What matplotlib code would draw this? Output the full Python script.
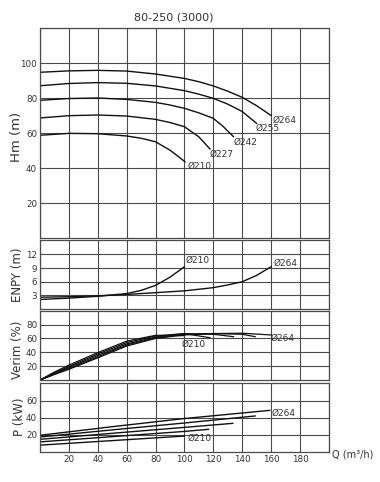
import matplotlib
matplotlib.use('Agg')
from matplotlib import pyplot as plt

plt.rcParams['font.family'] = 'DejaVu Sans'

diametros = ['264', '255', '242', '227', '210']

# Hm (m) x Q (m3/h)
q_hm = {
    '264': [0, 20, 40, 60, 80, 100, 110, 120, 130, 140, 150, 160],
    '255': [0, 20, 40, 60, 80, 100, 110, 120, 130, 140, 150],
    '242': [0, 20, 40, 60, 80, 90, 100, 110, 120, 127, 134],
    '227': [0, 20, 40, 60, 80, 90, 100, 110, 117.7],
    '210': [0, 20, 40, 60, 70, 80, 90, 100.4],
}
hm = {
    '264': [94.7, 95.5, 95.8, 95.4, 93.7, 91.2, 89.3, 86.9, 83.9, 80.4, 75.6, 70.0],
    '255': [87.0, 88.3, 88.8, 88.4, 86.9, 84.2, 82.2, 79.8, 76.5, 72.3, 65.5],
    '242': [78.7, 79.7, 80.0, 79.2, 77.5, 76.0, 74.1, 71.5, 68.4, 63.6, 57.9],
    '227': [68.6, 69.9, 70.3, 69.7, 67.8, 66.0, 63.6, 57.8, 50.9],
    '210': [58.7, 59.8, 59.6, 58.3, 57.0, 55.0, 50.2, 43.6],
}

# ENPY (m)
q_npsh = {
    '264': [0, 20, 40, 60, 80, 100, 120, 130, 140, 150, 160],
    '210': [0, 20, 40, 60, 70, 80, 90, 100],
}
npsh = {
    '264': [2.6, 2.7, 2.9, 3.2, 3.6, 4.0, 4.7, 5.3, 6.0, 7.4, 9.3],
    '210': [2.1, 2.4, 2.8, 3.4, 4.1, 5.2, 7.0, 9.3],
}

# Verim (%)
q_ef = {
    '264': [0, 10, 20, 40, 60, 80, 100, 120, 140, 160],
    '255': [0, 10, 20, 40, 60, 80, 100, 120, 140, 149],
    '242': [0, 10, 20, 40, 60, 80, 100, 120, 134],
    '227': [0, 10, 20, 40, 60, 80, 100, 117.7],
    '210': [0, 10, 20, 40, 60, 80, 100],
}
ef = {
    '264': [0, 8, 15.5, 32, 49, 60, 65, 67, 67.5, 65],
    '255': [0, 8.5, 16.5, 33.5, 50.5, 61, 66, 67, 66, 62.5],
    '242': [0, 9.5, 18, 35.5, 52, 62, 67, 66, 62.5],
    '227': [0, 10.5, 19.5, 37.5, 54, 63.5, 67, 61],
    '210': [0, 11.5, 21.5, 39.5, 56, 64.5, 64],
}

# P (kW)
q_p = {
    '264': [0, 50, 100, 159],
    '255': [0, 50, 100, 149],
    '242': [0, 50, 100, 133.5],
    '227': [0, 50, 100, 116.6],
    '210': [0, 50, 100],
}
pot = {
    '264': [19.5, 29.5, 39.0, 48.5],
    '255': [17.5, 25.8, 33.8, 42.0],
    '242': [14.8, 21.8, 28.7, 33.4],
    '227': [11.8, 17.9, 24.0, 26.4],
    '210': [8.0, 13.3, 18.6],
}

x_ticks = [20, 40, 60, 80, 100, 120, 140, 160, 180]
cor_grade = '#4a4a4a'
cor_txt = '#333333'

fig = plt.figure(figsize=(3.8, 4.82), dpi=100)
ax1 = fig.add_axes([0.1053, 0.5062, 0.76, 0.4357])
ax2 = fig.add_axes([0.1053, 0.3589, 0.76, 0.1442])
ax3 = fig.add_axes([0.1053, 0.2116, 0.76, 0.1438])
ax4 = fig.add_axes([0.1053, 0.0622, 0.76, 0.1425])

def prepara(ax, ymax, yticks, ygrid, mostrar_x=False):
    ax.set_xlim(0, 200)
    ax.set_ylim(0, ymax)
    ax.set_xticks(range(0, 201, 20))
    ax.set_yticks(ygrid)
    ax.set_yticklabels([str(v) if v in yticks else '' for v in ygrid])
    if mostrar_x:
        ax.set_xticklabels([''] + [str(v) for v in x_ticks] + [''])
    else:
        ax.set_xticklabels([])
    ax.grid(True, color=cor_grade, lw=0.8)
    ax.tick_params(length=0, pad=2, labelsize=6.3, labelcolor=cor_txt)
    for s in ax.spines.values():
        s.set_color(cor_grade)
        s.set_linewidth(0.9)

prepara(ax1, 120, [20, 40, 60, 80, 100], [20, 40, 60, 80, 100, 120])
prepara(ax2, 15.3, [3, 6, 9, 12], [3, 6, 9, 12])
prepara(ax3, 100, [20, 40, 60, 80], [20, 40, 60, 80])
prepara(ax4, 80, [20, 40, 60], [20, 40, 60], mostrar_x=True)

for d in diametros:
    ax1.plot(q_hm[d], hm[d], color='#111111', lw=1.0)
    ax3.plot(q_ef[d], ef[d], color='#111111', lw=0.9)
    ax4.plot(q_p[d], pot[d], color='#111111', lw=1.0)
for d in ['264', '210']:
    ax2.plot(q_npsh[d], npsh[d], color='#111111', lw=1.0)

rot = dict(fontsize=6.5, color=cor_txt, ha='left', va='center')
ax1.text(161, 67, 'Ø264', **rot)
ax1.text(149.6, 62.7, 'Ø255', **rot)
ax1.text(134, 54.7, 'Ø242', **rot)
ax1.text(117.5, 47.8, 'Ø227', **rot)
ax1.text(101.9, 41, 'Ø210', **rot)
ax2.text(100.5, 10.8, 'Ø210', **rot)
ax2.text(162, 10.1, 'Ø264', **rot)
ax3.text(98, 52, 'Ø210', **rot)
ax3.text(159.7, 60.6, 'Ø264', **rot)
ax4.text(102, 16.5, 'Ø210', **rot)
ax4.text(160.5, 45.6, 'Ø264', **rot)

fig.text(0.458, 0.963, '80-250 (3000)', fontsize=8, color=cor_txt, ha='center', va='center')
fig.text(0.044, 0.716, 'Hm (m)', fontsize=9.5, color=cor_txt, rotation=90, ha='center', va='center')
fig.text(0.047, 0.430, 'ENPY (m)', fontsize=8.5, color=cor_txt, rotation=90, ha='center', va='center')
fig.text(0.047, 0.274, 'Verim (%)', fontsize=8.5, color=cor_txt, rotation=90, ha='center', va='center')
fig.text(0.050, 0.135, 'P (kW)', fontsize=8.5, color=cor_txt, rotation=90, ha='center', va='center')
fig.text(0.874, 0.058, 'Q (m³/h)', fontsize=7, color=cor_txt, ha='left', va='center')

plt.savefig('out.png', dpi=100)
